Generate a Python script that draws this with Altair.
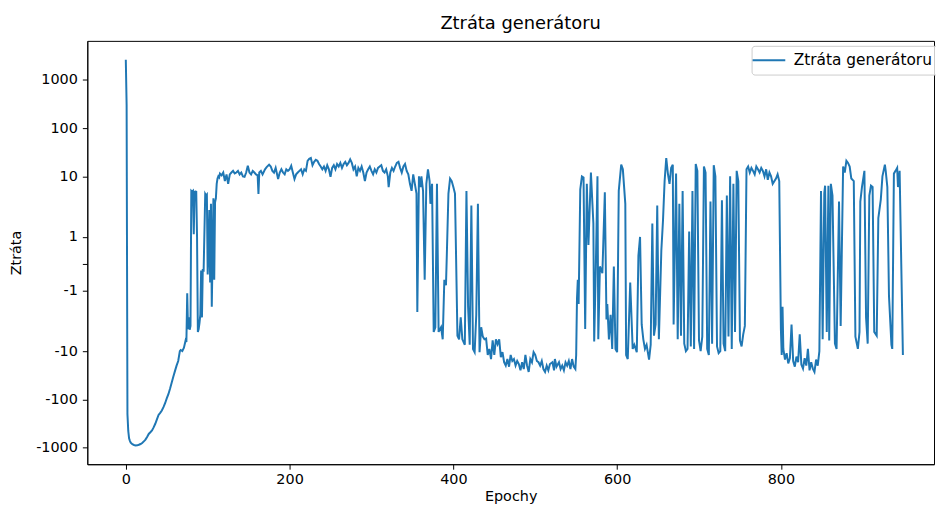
import math
import altair as alt
import pandas as pd

# ---- data (epoch, generator loss) ----
epochs_start = [0, 1, 2, 3, 4, 5, 6, 8, 10, 12, 14, 16, 18, 20, 22, 24, 26, 28, 30,
                32, 34, 36, 38, 40, 42, 44, 46, 48, 50, 52, 54, 56, 58, 60, 62, 64, 66,
                67, 69, 71, 73, 74, 75, 76, 77, 78, 79,
                80, 81, 82, 83, 84, 85, 86, 87, 88, 89, 90, 91, 92, 93, 94, 95,
                97, 98, 99, 100, 101, 102, 103, 104, 105, 106, 107, 108, 109, 110, 111, 112, 113, 114, 115]
loss_start = [2600, 300, -200, -450, -640, -720, -790, -850, -880, -900, -895, -870, -840, -800, -740, -680, -600, -520, -480,
              -440, -380, -320, -260, -210, -190, -170, -145, -120, -95, -78, -60, -45, -34, -26, -20, -16, -10,
              -9.5, -10, -8.5, -6, -6.5, -1.1, -3.5, -2, -3.6, -3,
              5, 4.8, 5, 1.1, 5, 4.5, 5, 1.0, -4, -3.5, -2.6, -1.9, -0.25, -2, -0.2, -0.3,
              4.3, 4.0, 4.2, -0.4, 0.5, 2, -0.7, 2.7, -1.6, 0.4, 3.5, -0.6, 2.9, 3.5, 7, 9, 10, 9.5, 11.4]

epochs_plateau = [117, 119, 121, 123, 125, 127, 129, 131, 133, 135, 137, 139, 141, 143, 145, 147, 149, 151, 153, 155,
                  157, 159, 161, 162, 163, 165, 167, 170, 172, 175, 177, 179, 181, 183, 186, 188, 190, 192, 194, 196,
                  198, 200, 202, 204, 206, 208, 210, 212, 214, 216, 218, 220, 222, 224, 226, 228, 230, 232, 234, 236,
                  238, 240, 242, 244, 246, 248, 250, 252, 254, 256, 258, 260, 262, 264, 266, 268, 270, 272, 274, 276,
                  278, 280, 282, 284, 286, 288, 290, 292, 294, 296, 298, 300, 302, 304, 306, 308, 310, 312, 314, 316,
                  318, 320, 321, 323, 325, 327, 329, 331, 333, 335, 337, 339, 341, 343, 345, 347, 349, 351, 353, 355]
loss_plateau = [10.5, 12, 8, 11, 7, 11, 12, 13, 11.5, 12, 13, 11, 12, 10, 9.8, 12, 16.6, 12, 11, 13,
                12, 11, 10.5, 4.3, 12, 13, 11, 14, 15.5, 17.5, 16, 13, 12, 15, 8.8, 12, 14, 12, 11, 14,
                13, 14, 16.6, 12, 8.8, 11, 12, 13, 14, 11, 14, 13, 21, 23, 24, 17, 20, 22, 21, 18,
                16, 14, 16, 13, 17, 14, 9.8, 15, 17, 14, 18, 16, 19, 15, 18, 20, 17, 19, 22.5, 19,
                14, 16, 10, 15, 13, 16, 12, 8, 12, 14, 16, 13, 11, 14, 12, 15, 16, 17, 13, 12,
                14, 10, 6, 12, 15, 13, 16, 19, 20, 15, 12, 16, 18, 13, 11, 7, 5, 11, 7, 4.4]

epochs_collapse = [356, 358, 360, 361, 363, 365, 367, 369, 371, 372, 374, 376, 378, 380, 382, 385, 387, 389, 391, 392,
                   394, 396, 398, 400, 402, 405, 407, 409, 411, 414, 416, 418, 420, 422, 424, 426, 428, 430, 432, 434]
loss_collapse = [-1.8, 10, 6, 10, 5, -0.6, 7, 14, 8, 2.7, 7, -4, -3.2, 7, -4, -3.2, -5.7, -0.6, -0.8, 0.3,
                 4.4, 9, 8, 6, 4.4, -4.8, -5.7, -2, -5.7, -7.4, 5, -1.6, -7.4, 2.5, -9, -10.5, -1.9, 2.7, -10.5, -3.2]

epochs_trough = [436, 438, 440, 442, 444, 446, 448, 450, 452, 454, 456, 458, 460, 462, 464, 466, 468, 470, 472, 474,
                 476, 478, 480, 482, 484, 486, 488, 490, 492, 494, 496, 498, 500, 502, 504, 506, 508, 510, 512, 514,
                 516, 518, 521, 523, 524, 526, 529, 531, 533, 535, 537, 539, 541, 543, 545, 547, 549, 550]
loss_trough = [-5, -5.7, -5.5, -12, -9, -14.6, -6, -12, -5.7, -7.2, -5.7, -13.3, -10.5, -17, -20, -14.6, -21, -12, -16, -14.6,
               -20, -16, -18.5, -25, -17, -23.5, -12, -20, -27, -14.6, -17, -10.5, -12, -16, -17, -20, -16, -23.5, -27, -20,
               -25, -18.5, -17, -25, -14.6, -21, -17, -23.5, -20, -25, -17, -20, -16, -23.5, -14.6, -21, -23.5, -12]

epochs_osc_a = [551, 552, 553, 555, 557, 559, 561, 563, 565, 568, 571, 572, 574, 576, 577, 579, 582, 585, 587, 588,
                590, 592, 594, 596, 598, 600, 602, 605, 607, 610, 611, 613, 616, 619, 621, 624, 626, 628, 630, 632,
                634, 636, 639, 641, 643, 645, 647, 649, 651, 654, 656, 658, 660, 662, 664, 666, 668, 669, 672, 674,
                676, 678, 680]
loss_osc_a = [-1.3, -0.6, -1.5, 5.4, 10, 9.5, -3.5, 7, 0.7, 12, 1.5, -6.3, -0.1, 10, -5.7, -0.1, -0.35, 4.7, -2.2, -1.5,
              -5.7, -1.9, -9, -0.1, -9, -10.5, 5, 17.5, 14, 2.7, -12, -14.6, -0.7, -9, -7.4, -10.5, 0.3, 1, -2.8, -5.7,
              -9, -7.4, -15, -7.4, 1.5, -4.8, -2.8, 2.5, -5.7, 0.5, 1.6, 8, 24, 11.4, 7, 15, 17.5, -2.8, 11.4, -5.7,
              2.7, -4.8, 5]

epochs_osc_b = [682, 684, 686, 688, 690, 692, 694, 696, 698, 700, 702, 704, 706, 708, 710, 712, 714, 716, 718, 720,
                722, 724, 726, 728, 730, 732, 734, 736, 738, 740, 742, 744, 746, 748, 750, 752, 754, 756, 758, 760,
                762, 764, 766, 768, 770, 772, 774, 776, 778, 780, 782, 784, 786, 788, 790, 794, 796, 798]
loss_osc_b = [-7, -10, -9, 1.2, -8, 5, -9, 18, 13, -6, -10, -5, 16, 12, -9, -12, 3, -7, 17, 10,
              -8, -11, -10, 3.2, -7, -10, 4, -5, 10, -9, 7, -4, 13, 8, -6, -8, -4.5, -3, 14, 16,
              12, 15, 13, 11, 16, 14, 12, 15, 13, 10, 14, 8.5, 12, 10, 7, 9, 11, 8]

epochs_osc_c = [800, 801, 802, 803, 805, 807, 809, 811, 813, 815, 817, 819, 821, 823, 825, 827, 829, 831, 833, 835,
                837, 839, 841, 843, 845, 847, 849, 851, 853, 854, 856, 858, 859, 861, 863, 866, 868, 871, 873, 876,
                878, 880, 882, 884, 886, 889, 891, 894, 896, 897, 899, 902, 904, 906, 908, 910, 912, 914, 917, 919,
                922, 924, 927, 928, 930, 932, 935, 936, 938, 940, 942, 943, 945, 947, 949]
loss_osc_c = [-3.5, -12, -1.6, -9, -15, -11, -18, -14, -2.8, -16, -21, -13, -17, -4.5, -19, -23, -14, -20, -9, -25,
              -17, -23, -27, -15, -20, -10, 5, -5.7, 4.5, 6.4, -4, 6.4, -6, 7, 4, -7, -9, 3, -3, 16,
              12, 21, 19, 16, 9, 8, -5, -9, -4, 3, 6, 13, -2, -7, 4, 6.4, 6, -4, -4.8, 1.7,
              3.3, 10, 17.5, 13, 6, -1.2, -7.4, -9, 11.4, 13, 15, 6, 13, 0, -12]

y_tick_labels = [-1000, -100, -10, -1, 0, 1, 10, 100, 1000]
x_tick_labels = [0, 200, 400, 600, 800]
series_name = "Ztráta generátoru"

epochs = epochs_start + epochs_plateau + epochs_collapse + epochs_trough + epochs_osc_a + epochs_osc_b + epochs_osc_c
loss = loss_start + loss_plateau + loss_collapse + loss_trough + loss_osc_a + loss_osc_b + loss_osc_c

df = pd.DataFrame({"epoch": epochs, "loss": loss})
df["serie"] = series_name

# symmetric log (linthresh 2, linscale 1, base 10) position of the tick values
def symlog(v):
    if abs(v) <= 2:
        return v / 1.8
    return math.copysign(10 / 9 + math.log10(abs(v) / 2), v)

y_tick_pos = [symlog(v) for v in y_tick_labels]

FONT = "DejaVu Sans"

label_expr = (
    "abs(datum.value) < 0.01 ? '' : (datum.value < 0 ? '-' : '') + "
    "format(abs(datum.value) <= 1.1112 ? abs(datum.value) * 1.8 : 2 * pow(10, abs(datum.value) - 10 / 9), '.0f')"
)

chart = (
    alt.Chart(df)
    .transform_calculate(
        t="abs(datum.loss) <= 2 ? datum.loss / 1.8 : (datum.loss > 0 ? 1 : -1) * (10 / 9 + log(abs(datum.loss) / 2) / LN10)"
    )
    .mark_line(strokeWidth=2, clip=True)
    .encode(
        x=alt.X(
            "epoch:Q",
            scale=alt.Scale(domain=[-47, 987], nice=False, zero=False),
            axis=alt.Axis(values=x_tick_labels, title="Epochy", titlePadding=4, labelPadding=3),
        ),
        y=alt.Y(
            "t:Q",
            scale=alt.Scale(domain=[-4.153, 4.617], nice=False, zero=False),
            axis=alt.Axis(values=y_tick_pos, labelExpr=label_expr, title="Ztráta", titlePadding=12, labelPadding=5),
        ),
        color=alt.Color(
            "serie:N",
            scale=alt.Scale(range=["#1f77b4"]),
            legend=alt.Legend(
                title=None,
                orient="none",
                legendX=670,
                legendY=5,
                symbolType="M-2.06,0H2.06",
                symbolSize=256,
                symbolStrokeWidth=2,
                symbolOffset=3,
                labelOffset=16,
                padding=5.5,
                strokeColor="#cccccc",
                fillColor="rgba(255,255,255,0.8)",
                cornerRadius=3,
                labelFont=FONT,
                labelFontSize=15.5,
                labelColor="black",
                labelLimit=300,
            ),
        ),
    )
    .properties(
        width=854,
        height=427,
        title=alt.Title(series_name, font=FONT, fontSize=18, fontWeight="normal", color="black", offset=8, dx=10),
        autosize=alt.AutoSizeParams(type="none"),
        padding={"left": 80, "top": 31, "right": 2, "bottom": 41},
    )
    .configure_view(stroke="black", strokeWidth=1)
    .configure_axis(
        labelFont=FONT,
        labelFontSize=14.5,
        labelColor="black",
        titleFont=FONT,
        titleFontSize=14.5,
        titleFontWeight="normal",
        titleColor="black",
        grid=False,
        domainColor="black",
        domainWidth=1,
        tickColor="black",
        tickSize=5,
        tickWidth=1,
    )
)

chart.save("out.html", embed_options={"renderer": "svg", "actions": False})
